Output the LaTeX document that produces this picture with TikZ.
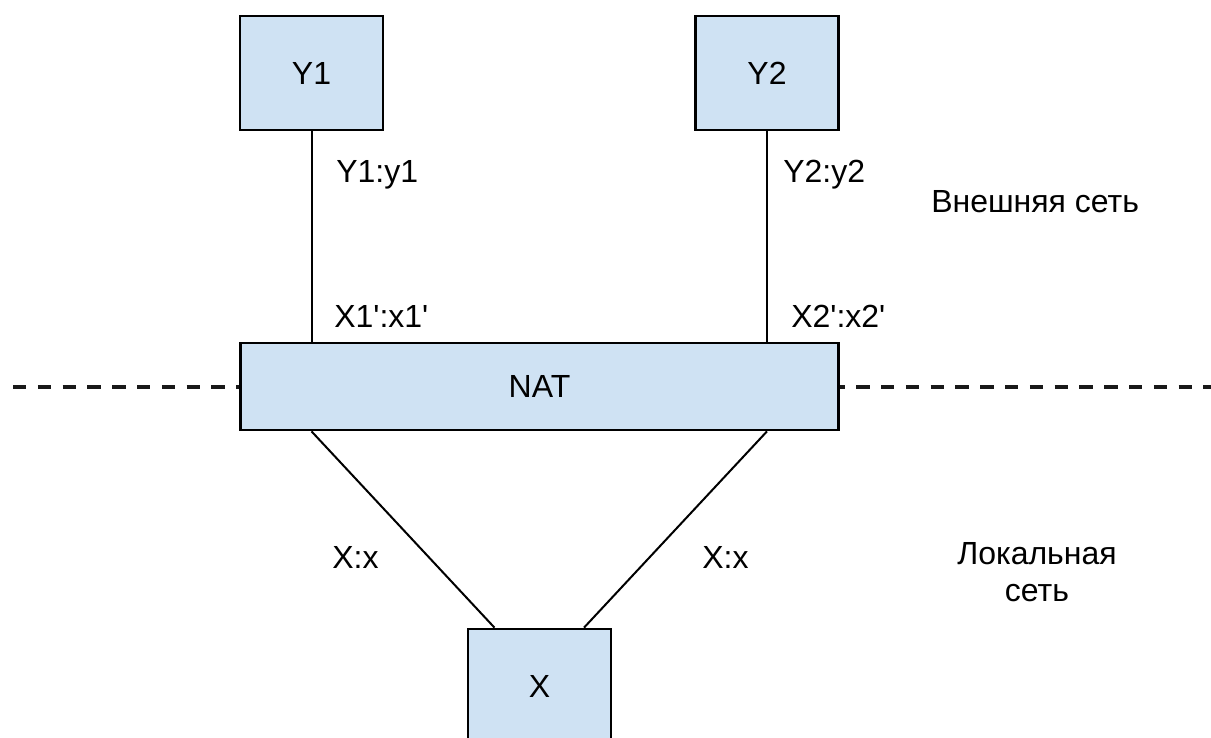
\documentclass[tikz,border=0pt]{standalone}
\usepackage{fontspec}
\setmainfont{Liberation Sans}[Ligatures=TeXOff]
\usetikzlibrary{calc}
\definecolor{boxfill}{HTML}{CFE2F3}
\begin{document}
\begin{tikzpicture}[x=0.75pt,y=-0.75pt,
  every node/.style={font=\fontsize{24}{27.75}\selectfont, inner sep=0pt, text=black},
  box/.style={draw=black, fill=boxfill, line width=2pt, minimum width=107.25pt, minimum height=85.5pt},
  wide/.style={minimum width=448.5pt, minimum height=65.25pt},
  conn/.style={draw=black, line width=1.5pt},
  divider/.style={draw=black!90, line width=2.4pt, dash pattern=on 10pt off 8.6pt},
  lbl/.style={anchor=base west}]
\useasboundingbox (0,0) rectangle (1211,738);
\coordinate (dL) at (13,387);
\coordinate (dR) at (1211,387);
\draw[divider] (dL) -- (dR);

\node[box] (Y1) at (311.5,73) {Y1};
\node[box] (Y2) at (767,73) {Y2};
\node[box, wide] (NAT) at (539.5,386.5) {NAT};
\node[box] (X) at (539.5,686) {X};

\draw[conn] (Y1.south) -- (Y1.south |- NAT.north);
\draw[conn] (Y2.south) -- (Y2.south |- NAT.north);
\draw[conn] (Y1.south |- NAT.south) -- ($(X.north)+(-45,0)$);
\draw[conn] (Y2.south |- NAT.south) -- ($(X.north)+(44.5,0)$);

\node[lbl] (l1) at (336,183) {Y1:y1};
\node[lbl] (l2) at (783,183) {Y2:y2};
\node[lbl] (l3) at (334,327) {X1':x1'};
\node[lbl] (l4) at (791,327) {X2':x2'};
\node[lbl] (l5) at (332,568) {X:x};
\node[lbl] (l6) at (702,568) {X:x};
\node[lbl] (ext) at (931,213) {Внешняя сеть};
\node[align=center] (loc) at (1037,572.5) {Локальная\\сеть};
\end{tikzpicture}
\end{document}
